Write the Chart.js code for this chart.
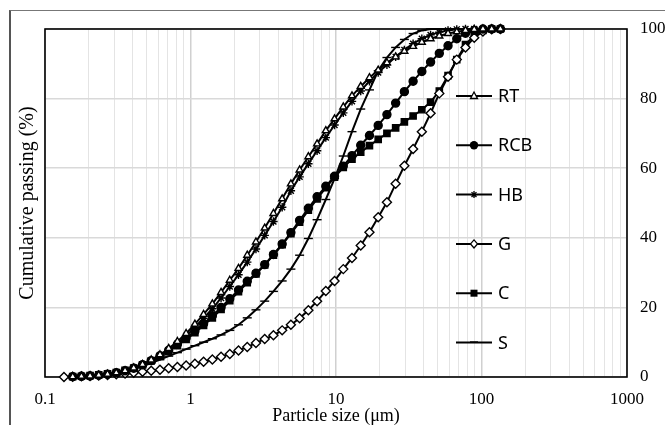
<!DOCTYPE html>
<html>
<head>
<meta charset="utf-8">
<script src="https://cdn.jsdelivr.net/npm/chart.js@4.4.1/dist/chart.umd.min.js"></script>
<style>
  html, body { margin: 0; padding: 0; background: #fff; }
  #wrap { position: relative; width: 665px; height: 425px; overflow: hidden; }
  #frame { position: absolute; left: 9px; top: 10px; width: 700px; height: 500px;
           border-left: 2px solid #555; border-top: 1px solid #777; }
  canvas { position: absolute; left: 0; top: 0; }
</style>
</head>
<body>
<div id="wrap">
  <div id="frame"></div>
  <canvas id="psd" width="665" height="425"></canvas>
</div>
<script>
// particle sizes (um) shared by all samples
const sizes = [0.135, 0.155, 0.178, 0.204, 0.234, 0.269, 0.309, 0.355, 0.407, 0.468,
  0.537, 0.617, 0.708, 0.813, 0.933, 1.072, 1.23, 1.413, 1.622, 1.862,
  2.138, 2.455, 2.818, 3.236, 3.715, 4.266, 4.898, 5.623, 6.457, 7.413,
  8.511, 9.772, 11.22, 12.88, 14.79, 16.98, 19.5, 22.39, 25.7, 29.51,
  33.88, 38.9, 44.67, 51.29, 58.88, 67.61, 77.62, 89.13, 102.3, 117.5, 134.9];

// cumulative passing (%)
const rt = [null, 0.1, 0.2, 0.3, 0.5, 0.8, 1.2, 1.8, 2.6, 3.6,
  4.9, 6.4, 8.2, 10.2, 12.5, 15.2, 18.0, 21.0, 24.3, 27.8,
  31.2, 35.0, 38.8, 42.8, 47.0, 51.2, 55.5, 59.5, 63.3, 67.0,
  70.8, 74.2, 77.6, 80.8, 83.5, 86.0, 88.2, 90.3, 92.0, 93.6,
  95.0, 96.2, 97.2, 98.0, 98.7, 99.2, 99.6, 99.9, 100, 100, 100];
const rcb = [null, 0.1, 0.2, 0.3, 0.5, 0.8, 1.2, 1.8, 2.5, 3.5,
  4.7, 6.1, 7.7, 9.4, 11.2, 13.2, 15.3, 17.6, 20.0, 22.5,
  25.0, 27.5, 29.8, 32.3, 35.2, 38.2, 41.5, 45.0, 48.5, 51.8,
  54.8, 57.7, 60.6, 63.6, 66.6, 69.4, 72.3, 75.4, 78.7, 82.0,
  85.0, 87.8, 90.5, 93.0, 95.2, 97.2, 98.8, 99.6, 100, 100, 100];
const hb = [null, 0.1, 0.2, 0.3, 0.5, 0.8, 1.2, 1.8, 2.6, 3.5,
  4.7, 6.1, 7.7, 9.6, 11.8, 14.3, 16.9, 19.6, 22.7, 26.0,
  29.4, 33.0, 36.8, 40.7, 44.7, 48.8, 53.5, 57.5, 61.3, 65.0,
  68.8, 72.4, 75.9, 79.2, 82.2, 85.0, 87.5, 89.7, 92.0, 94.0,
  95.8, 97.2, 98.3, 99.1, 99.6, 99.9, 100, 100, 100, 100, 100];
const g = [0.0, 0.1, 0.2, 0.3, 0.4, 0.6, 0.8, 1.0, 1.2, 1.5,
  1.8, 2.1, 2.5, 2.9, 3.3, 3.8, 4.4, 5.0, 5.8, 6.6,
  7.6, 8.6, 9.8, 10.9, 12.0, 13.4, 15.0, 16.9, 19.2, 21.8,
  24.7, 27.6, 31.0, 34.2, 37.8, 41.6, 45.9, 50.2, 55.5, 60.7,
  65.5, 70.5, 75.8, 81.5, 86.3, 91.2, 94.7, 97.5, 99.3, 99.9, 100];
const c = [null, 0.1, 0.2, 0.4, 0.6, 0.9, 1.3, 1.9, 2.6, 3.5,
  4.6, 5.9, 7.4, 9.0, 10.8, 12.7, 14.8, 17.0, 19.4, 21.9,
  24.5, 27.1, 29.6, 32.2, 35.0, 38.0, 41.2, 44.5, 47.9, 51.2,
  54.4, 57.4, 60.2, 62.6, 64.6, 66.5, 68.3, 70.0, 71.6, 73.3,
  75.0, 76.8, 79.0, 82.2, 86.6, 91.2, 95.5, 98.2, 99.6, 100, 100];
const s = [null, 0.0, 0.1, 0.2, 0.4, 0.7, 1.1, 1.6, 2.3, 3.1,
  4.0, 5.0, 6.0, 7.0, 8.0, 9.0, 10.0, 11.0, 12.1, 13.4,
  15.0, 17.0, 19.3, 21.8, 24.6, 27.6, 31.0, 35.0, 39.8, 45.2,
  51.0, 57.0, 63.5, 70.5, 77.0, 82.5, 88.0, 91.8, 94.7, 97.0,
  98.7, 99.6, 100, 100, 100, 100, 100, 100, 100, 100, 100];

const xGridValues = [0.1, 0.2, 0.3, 0.4, 0.5, 0.6, 0.7, 0.8, 0.9,
  1, 2, 3, 4, 5, 6, 7, 8, 9,
  10, 20, 30, 40, 50, 60, 70, 80, 90,
  100, 200, 300, 400, 500, 600, 700, 800, 900, 1000];
const xTickValues = [0.1, 1, 10, 100, 1000];
const xTickLabels = ['0.1', '1', '10', '100', '1000'];

const serif = '"Liberation Serif", "Times New Roman", serif';

function toPoints(values) {
  return sizes.map((d, i) => ({ x: d, y: values[i] })).filter(p => p.y !== null);
}

function series(label, values, style, fillColor, radius) {
  return {
    label: label,
    data: toPoints(values),
    xAxisID: 'x',
    yAxisID: 'y',
    borderColor: '#000',
    borderWidth: 2,
    tension: 0,
    fill: false,
    clip: false,
    pointStyle: style,
    pointRadius: radius,
    pointBorderWidth: 1.4,
    pointBorderColor: '#000',
    pointBackgroundColor: fillColor
  };
}

const datasets = [
  series('RT', rt, 'triangle', '#fff', 4),
  series('RCB', rcb, 'circle', '#000', 4),
  series('HB', hb, 'star', '#000', 4.2),
  series('G', g, 'rectRot', '#fff', 4.5),
  series('C', c, 'rect', '#000', 4.4),
  series('S', s, 'line', '#000', 4.5)
];

// little marker for the legend entries
function legendMarker(ctx, style, x, y) {
  ctx.beginPath();
  if (style === 'triangle') {
    ctx.moveTo(x, y - 4); ctx.lineTo(x + 3.5, y + 2.5); ctx.lineTo(x - 3.5, y + 2.5); ctx.closePath();
    ctx.fillStyle = '#fff'; ctx.fill(); ctx.stroke();
  } else if (style === 'circle') {
    ctx.arc(x, y, 4.2, 0, Math.PI * 2);
    ctx.fillStyle = '#000'; ctx.fill();
  } else if (style === 'star') {
    for (let k = 0; k < 4; k++) {
      const a = k * Math.PI / 4;
      ctx.moveTo(x - 3.5 * Math.cos(a), y - 3.5 * Math.sin(a));
      ctx.lineTo(x + 3.5 * Math.cos(a), y + 3.5 * Math.sin(a));
    }
    ctx.stroke();
  } else if (style === 'rectRot') {
    ctx.moveTo(x, y - 4); ctx.lineTo(x + 3.5, y); ctx.lineTo(x, y + 4); ctx.lineTo(x - 3.5, y); ctx.closePath();
    ctx.fillStyle = '#fff'; ctx.fill(); ctx.stroke();
  } else if (style === 'rect') {
    ctx.rect(x - 3.5, y - 3.5, 7, 7);
    ctx.fillStyle = '#000'; ctx.fill();
  } else {
    ctx.moveTo(x - 4, y - 0.5); ctx.lineTo(x + 4, y - 0.5);
    ctx.stroke();
  }
}

const plotFrame = {
  id: 'plotFrame',
  beforeDatasetsDraw(chart) {
    const { ctx, chartArea: a } = chart;
    ctx.save();
    ctx.strokeStyle = '#000';
    ctx.lineWidth = 1.6;
    ctx.strokeRect(a.left, a.top, a.right - a.left, a.bottom - a.top);
    ctx.restore();
  }
};

const sideLegend = {
  id: 'sideLegend',
  afterDraw(chart) {
    const { ctx, chartArea: a } = chart;
    ctx.save();
    chart.data.datasets.forEach((ds, i) => {
      const y = a.top + 67 + i * 49.3;
      const x0 = a.left + 411;
      const x1 = x0 + 36;
      ctx.strokeStyle = '#000';
      ctx.lineWidth = 2;
      ctx.beginPath();
      ctx.moveTo(x0, y);
      ctx.lineTo(x1, y);
      ctx.stroke();
      ctx.lineWidth = 1.3;
      legendMarker(ctx, ds.pointStyle, (x0 + x1) / 2, y);
      ctx.fillStyle = '#000';
      ctx.font = '18px "Noto Sans", sans-serif';
      ctx.textBaseline = 'middle';
      ctx.textAlign = 'left';
      ctx.fillText(ds.label, x1 + 6, y + 1);
    });
    ctx.restore();
  }
};

new Chart(document.getElementById('psd').getContext('2d'), {
  type: 'line',
  data: { datasets: datasets },
  options: {
    responsive: false,
    animation: false,
    devicePixelRatio: 1,
    layout: { padding: { top: 29, left: 0, right: 0, bottom: 0 } },
    plugins: {
      legend: { display: false },
      tooltip: { enabled: false }
    },
    scales: {
      x: {
        type: 'logarithmic',
        position: 'bottom',
        min: 0.1,
        max: 1000,
        afterBuildTicks: (axis) => {
          axis.ticks = xGridValues.map(v => ({ value: v }));
        },
        afterFit: (axis) => { axis.height = 48; },
        border: { display: false },
        grid: {
          drawTicks: false,
          color: (ctx) => (ctx.tick && xTickValues.includes(ctx.tick.value)) ? '#d0d0d0' : '#e4e4e4',
          lineWidth: (ctx) => (ctx.tick && xTickValues.includes(ctx.tick.value)) ? 1.5 : 1
        },
        ticks: {
          autoSkip: false,
          maxRotation: 0,
          padding: 12,
          color: '#000',
          font: { family: serif, size: 17 },
          callback: (value) => {
            const k = xTickValues.indexOf(value);
            return k >= 0 ? xTickLabels[k] : '';
          }
        },
        title: {
          display: true,
          text: 'Particle size (μm)',
          color: '#000',
          font: { family: serif, size: 18, lineHeight: 1 },
          padding: { top: 0, bottom: 0 }
        }
      },
      y: {
        position: 'right',
        min: 0,
        max: 100,
        afterFit: (axis) => { axis.width = 38; },
        border: { display: false },
        grid: { drawTicks: false, color: '#d9d9d9', lineWidth: 1.5 },
        ticks: {
          stepSize: 20,
          padding: 13,
          color: '#000',
          font: { family: serif, size: 17 }
        }
      },
      yTitle: {
        position: 'left',
        min: 0,
        max: 100,
        afterFit: (axis) => { axis.width = 45; },
        border: { display: false },
        grid: { display: false, drawTicks: false },
        ticks: { display: false },
        title: {
          display: true,
          text: 'Cumulative passing (%)',
          color: '#000',
          font: { family: serif, size: 20 },
          padding: { top: 16, bottom: 0 }
        }
      }
    }
  },
  plugins: [plotFrame, sideLegend]
});
</script>
</body>
</html>
